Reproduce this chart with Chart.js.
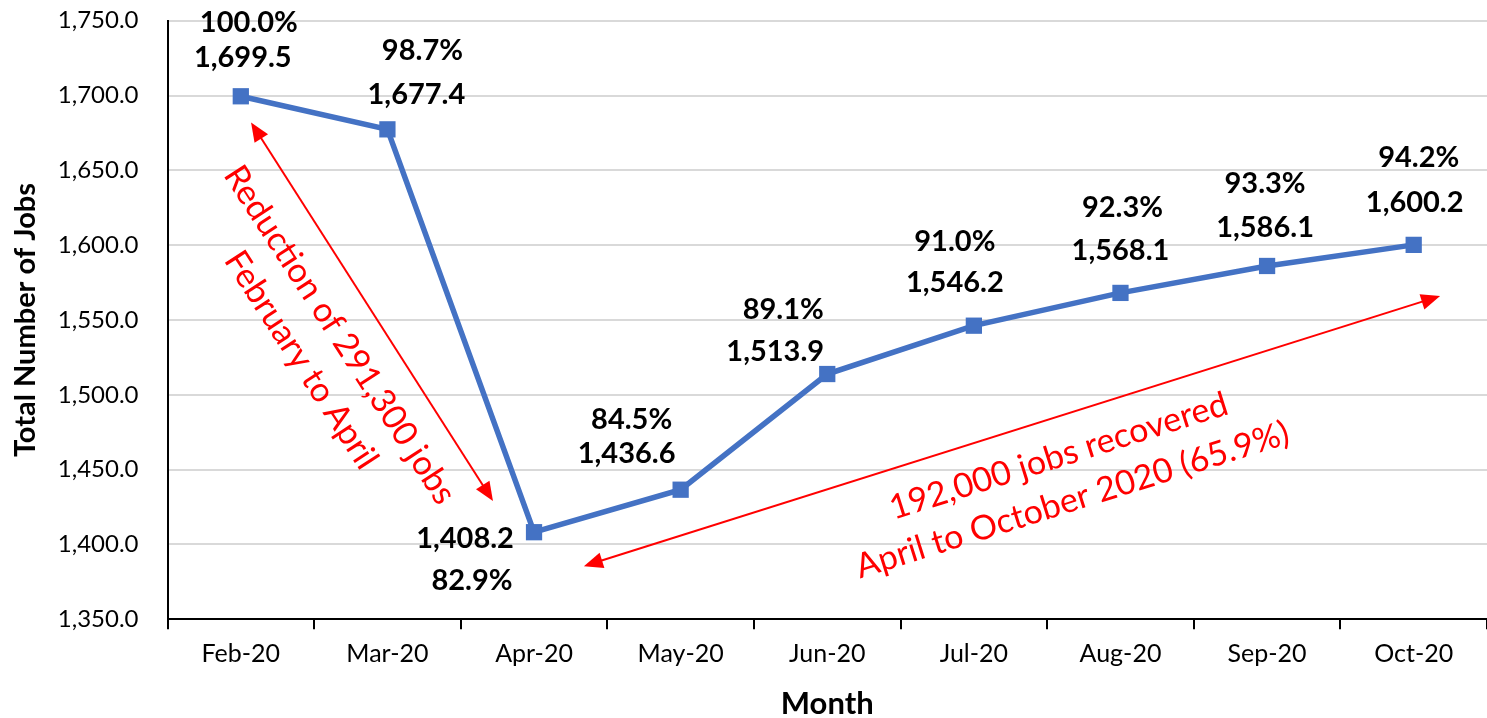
<!DOCTYPE html>
<html>
<head>
<meta charset="utf-8">
<title>Total Number of Jobs</title>
<script src="https://cdn.jsdelivr.net/npm/chart.js@4.4.1/dist/chart.umd.min.js"></script>
<style>
  html, body { margin: 0; padding: 0; background: #fff; }
  #wrap { width: 1487px; height: 718px; }
</style>
</head>
<body>
<div id="wrap"><canvas id="jobsChart" width="1487" height="718"></canvas></div>
<script>
// data
const months = ['Feb-20', 'Mar-20', 'Apr-20', 'May-20', 'Jun-20', 'Jul-20', 'Aug-20', 'Sep-20', 'Oct-20'];
const jobs = [1699.5, 1677.4, 1408.2, 1436.6, 1513.9, 1546.2, 1568.1, 1586.1, 1600.2];
const shareOfFeb = [100.0, 98.7, 82.9, 84.5, 89.1, 91.0, 92.3, 93.3, 94.2];
const yMin = 1350;
const yMax = 1750;
const yStep = 50;

// where the two labels of each point sit, in px from the point
const labelOffsets = [
    { pct: [8, -74], val: [2, -39] },
    { pct: [35, -79], val: [29, -35] },
    { pct: [-62, 48], val: [-69, 6] },
    { pct: [-49, -70], val: [-54, -36] },
    { pct: [-44, -64], val: [-52, -22] },
    { pct: [-19, -84], val: [-19, -43] },
    { pct: [2, -85], val: [0, -42] },
    { pct: [-2, -82], val: [-2, -38] },
    { pct: [5, -87], val: [1, -42] }
];

// red call-outs, anchored in axis units (category index, jobs)
const arrows = [
    { from: [0.07, 1682], to: [1.72, 1429] },
    { from: [2.34, 1385.5], to: [8.18, 1566] }
];
const notes = [
    { at: [0.543, 1531.6], angle: 57, lines: ['Reduction of 291,300 jobs', 'February to April'] },
    { at: [5.625, 1444.3], angle: -17.5, lines: ['192,000 jobs recovered', 'April to October 2020 (65.9%)'] }
];

const fmt = v => v.toLocaleString('en-US', { minimumFractionDigits: 1, maximumFractionDigits: 1 });

Chart.defaults.font.family = 'Lato';
Chart.defaults.color = '#000';

const pointLabels = {
    id: 'pointLabels',
    afterDatasetsDraw(chart) {
        const ctx = chart.ctx;
        const meta = chart.getDatasetMeta(0);
        ctx.save();
        ctx.fillStyle = '#000';
        ctx.font = 'bold 29px Lato';
        ctx.textAlign = 'center';
        ctx.textBaseline = 'middle';
        meta.data.forEach((pt, i) => {
            const off = labelOffsets[i];
            ctx.fillText(shareOfFeb[i].toFixed(1) + '%', pt.x + off.pct[0], pt.y + off.pct[1]);
            ctx.fillText(fmt(jobs[i]), pt.x + off.val[0], pt.y + off.val[1]);
        });
        ctx.restore();
    }
};

function arrowHead(ctx, x, y, ang) {
    const len = 19, half = 8;
    ctx.beginPath();
    ctx.moveTo(x, y);
    ctx.lineTo(x - len * Math.cos(ang) + half * Math.sin(ang), y - len * Math.sin(ang) - half * Math.cos(ang));
    ctx.lineTo(x - len * Math.cos(ang) - half * Math.sin(ang), y - len * Math.sin(ang) + half * Math.cos(ang));
    ctx.closePath();
    ctx.fill();
}

const callouts = {
    id: 'callouts',
    afterDatasetsDraw(chart) {
        const ctx = chart.ctx;
        const xs = chart.scales.x, ys = chart.scales.y;
        ctx.save();
        ctx.strokeStyle = '#ff0000';
        ctx.fillStyle = '#ff0000';
        ctx.lineWidth = 2;
        arrows.forEach(a => {
            const x1 = xs.getPixelForValue(a.from[0]), y1 = ys.getPixelForValue(a.from[1]);
            const x2 = xs.getPixelForValue(a.to[0]), y2 = ys.getPixelForValue(a.to[1]);
            const ang = Math.atan2(y2 - y1, x2 - x1);
            ctx.beginPath();
            ctx.moveTo(x1 + 12 * Math.cos(ang), y1 + 12 * Math.sin(ang));
            ctx.lineTo(x2 - 12 * Math.cos(ang), y2 - 12 * Math.sin(ang));
            ctx.stroke();
            arrowHead(ctx, x2, y2, ang);
            arrowHead(ctx, x1, y1, ang + Math.PI);
        });

        ctx.font = '34px Lato';
        ctx.textAlign = 'center';
        ctx.textBaseline = 'middle';
        const lineGap = 46;
        notes.forEach(n => {
            ctx.save();
            ctx.translate(xs.getPixelForValue(n.at[0]), ys.getPixelForValue(n.at[1]));
            ctx.rotate(n.angle * Math.PI / 180);
            const start = -(n.lines.length - 1) * lineGap / 2;
            n.lines.forEach((t, k) => ctx.fillText(t, 0, start + k * lineGap));
            ctx.restore();
        });
        ctx.restore();
    }
};

new Chart(document.getElementById('jobsChart').getContext('2d'), {
    type: 'line',
    data: {
        labels: months,
        datasets: [{
            label: 'Total Number of Jobs',
            data: jobs,
            borderColor: '#4472c4',
            backgroundColor: '#4472c4',
            borderWidth: 5.5,
            pointStyle: 'rect',
            pointRadius: 11.5,
            pointBorderWidth: 0,
            pointBackgroundColor: '#4472c4',
            tension: 0,
            clip: false
        }]
    },
    options: {
        responsive: false,
        animation: false,
        devicePixelRatio: 1,
        layout: { autoPadding: false, padding: { top: 20.7, right: 0, bottom: 0, left: 0 } },
        plugins: {
            legend: { display: false },
            tooltip: { enabled: false }
        },
        scales: {
            x: {
                offset: true,
                grid: {
                    offset: true,
                    drawOnChartArea: false,
                    drawTicks: true,
                    tickLength: 10,
                    color: '#000',
                    lineWidth: 2
                },
                border: { color: '#000', width: 2 },
                ticks: { font: { size: 25 }, color: '#000', padding: 10, maxRotation: 0 },
                title: {
                    display: true,
                    text: 'Month',
                    font: { size: 31, weight: 'bold', lineHeight: 0.9 },
                    color: '#000',
                    padding: 0
                },
                afterFit(scale) {
                    scale.height = 98.7;
                    scale.paddingLeft = 0;
                    scale.paddingRight = 0;
                }
            },
            y: {
                min: yMin,
                max: yMax,
                ticks: {
                    stepSize: yStep,
                    font: { size: 24 },
                    color: '#000',
                    padding: 29,
                    callback: v => fmt(v)
                },
                grid: { color: '#d9d9d9', lineWidth: 2, drawTicks: false },
                border: { color: '#000', width: 2 },
                title: {
                    display: true,
                    text: 'Total Number of Jobs',
                    font: { size: 29, weight: 'bold', lineHeight: 1.2 },
                    color: '#000',
                    padding: { top: 8, bottom: 0 }
                },
                afterFit(scale) {
                    scale.width = 167.5;
                    scale.paddingTop = 0;
                    scale.paddingBottom = 0;
                }
            }
        }
    },
    plugins: [callouts, pointLabels]
});
</script>
</body>
</html>
